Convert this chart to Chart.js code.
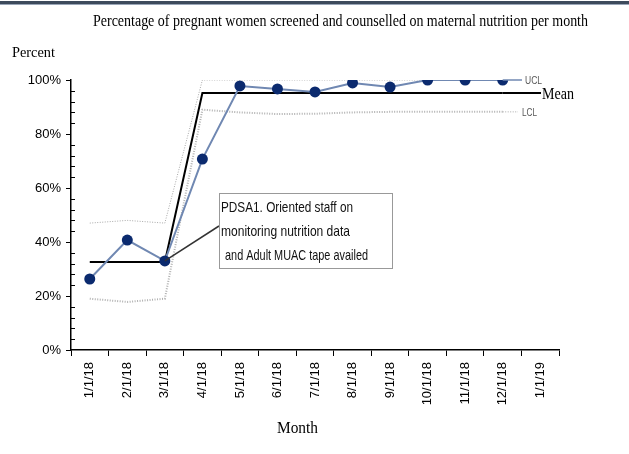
<!DOCTYPE html>
<html>
<head>
<meta charset="utf-8">
<script src="https://cdn.jsdelivr.net/npm/chart.js@4/dist/chart.umd.min.js"></script>
<style>
  html, body { margin: 0; padding: 0; background: #fff; }
  #wrap { width: 629px; height: 454px; position: relative; }
</style>
</head>
<body>
<div id="wrap"><canvas id="chart" width="629" height="454"></canvas></div>
<script>
// months on the x axis (last one has no value)
const months = ['1/1/18','2/1/18','3/1/18','4/1/18','5/1/18','6/1/18','7/1/18','8/1/18','9/1/18','10/1/18','11/1/18','12/1/18','1/1/19'];
// percent screened and counselled
const percent = [26.3, 40.7, 33, 70.7, 97.8, 96.7, 95.6, 98.9, 97.4, 100, 100, 100, null];
// control limits per phase
const meanLine = [32.6, 32.6, 32.6, 95.2, 95.2, 95.2, 95.2, 95.2, 95.2, 95.2, 95.2, 95.2, null];
const ucl = [47, 48, 47, 100, 100, 100, 100, 100, 100, 100, 100, 100, null];
const lcl = [19, 17.8, 19, 89, 88, 87.4, 87.5, 88, 88.2, 88.2, 88.2, 88.2, null];
const yTicks = [0, 20, 40, 60, 80, 100];
const noteLines = ['PDSA1. Oriented staff on', 'monitoring nutrition data', ' and Adult MUAC tape availed'];

const serif = '"Liberation Serif", "Times New Roman", serif';
const sans = '"Liberation Sans", Arial, sans-serif';

const extras = {
  id: 'extras',
  afterDraw(chart) {
    const ctx = chart.ctx;
    const x = chart.scales.x, y = chart.scales.y;
    ctx.save();
    // top frame line
    ctx.fillStyle = '#3d4a5c';
    ctx.fillRect(0, 1, 629, 3);
    ctx.fillStyle = '#9aa6b8';
    ctx.fillRect(0, 4, 629, 1);

    // minor ticks on the y axis
    ctx.strokeStyle = '#000';
    ctx.lineWidth = 1;
    for (let v = 0; v <= 100; v += 4) {
      if (v % 20 === 0) continue;
      const py = Math.round(y.getPixelForValue(v)) + 0.5;
      ctx.beginPath();
      ctx.moveTo(x.left, py);
      ctx.lineTo(x.left + 4, py);
      ctx.stroke();
    }

    ctx.fillStyle = '#000';
    ctx.textBaseline = 'alphabetic';
    ctx.textAlign = 'left';
    ctx.font = '16px ' + serif;
    ctx.fillText('Percentage of pregnant women screened and counselled on maternal nutrition per month', 93, 26, 495);
    ctx.font = '15px ' + serif;
    ctx.fillText('Percent', 12, 57, 43);
    ctx.font = '16px ' + serif;
    ctx.fillText('Month', 277, 433, 41);

    // line labels at the right end
    const last = 11;
    const xe = x.getPixelForValue(last);
    ctx.font = '16px ' + serif;
    ctx.textBaseline = 'middle';
    ctx.fillText('Mean', 542, y.getPixelForValue(meanLine[last]) + 2, 32);
    ctx.strokeStyle = '#000';
    ctx.lineWidth = 2;
    ctx.beginPath();
    ctx.moveTo(xe, y.getPixelForValue(meanLine[last]));
    ctx.lineTo(541, y.getPixelForValue(meanLine[last]));
    ctx.stroke();
    ctx.font = '10px ' + sans;
    ctx.fillStyle = '#555';
    ctx.fillText('UCL', 525, y.getPixelForValue(ucl[last]) + 1, 17);
    ctx.fillText('LCL', 522, y.getPixelForValue(lcl[last]) + 1, 15);
    ctx.strokeStyle = '#7088b2';
    ctx.lineWidth = 1.5;
    ctx.beginPath();
    ctx.moveTo(xe, y.getPixelForValue(ucl[last]));
    ctx.lineTo(522, y.getPixelForValue(ucl[last]));
    ctx.stroke();
    ctx.strokeStyle = '#aaa';
    ctx.lineWidth = 1;
    ctx.setLineDash([1, 1.5]);
    ctx.beginPath();
    ctx.moveTo(xe, y.getPixelForValue(lcl[last]));
    ctx.lineTo(518, y.getPixelForValue(lcl[last]));
    ctx.stroke();
    ctx.setLineDash([]);

    // callout box with leader line to the 3/1/18 point
    const bx = 219, by = 193, bw = 173, bh = 75;
    ctx.strokeStyle = '#333';
    ctx.lineWidth = 1.5;
    ctx.beginPath();
    ctx.moveTo(bx, by + 33);
    ctx.lineTo(x.getPixelForValue(2), y.getPixelForValue(percent[2]));
    ctx.stroke();
    ctx.fillStyle = '#fff';
    ctx.fillRect(bx, by, bw, bh);
    ctx.strokeStyle = '#999';
    ctx.lineWidth = 1;
    ctx.strokeRect(bx + 0.5, by + 0.5, bw, bh);
    ctx.fillStyle = '#111';
    ctx.font = '15px ' + sans;
    ctx.textBaseline = 'alphabetic';
    ctx.fillText(noteLines[0], bx + 2, by + 19, 132);
    ctx.fillText(noteLines[1], bx + 2, by + 43, 129);
    ctx.fillText(noteLines[2], bx + 3, by + 67, 146);
    ctx.restore();
  }
};

const ctx = document.getElementById('chart').getContext('2d');
new Chart(ctx, {
  type: 'line',
  data: {
    labels: months,
    datasets: [
      { label: 'UCL', data: ucl, borderColor: '#a8a8a8', borderWidth: 1, borderDash: [1, 1.5], pointRadius: 0, fill: false, order: 4 },
      { label: 'LCL', data: lcl, borderColor: '#b0b0b0', borderWidth: 2, borderDash: [1, 1.5], pointRadius: 0, fill: false, order: 3 },
      { label: 'Mean', data: meanLine, borderColor: '#000', borderWidth: 2, pointRadius: 0, fill: false, order: 2 },
      { label: 'Percent', data: percent, borderColor: '#7088b2', borderWidth: 2, pointRadius: 5.5, pointBackgroundColor: '#0b2a6e', pointBorderColor: '#0b2a6e', pointBorderWidth: 0, fill: false, order: 1 }
    ]
  },
  options: {
    responsive: false,
    animation: false,
    layout: { padding: { top: 80, right: 70, left: 0, bottom: 0 } },
    plugins: { legend: { display: false }, tooltip: { enabled: false }, title: { display: false } },
    scales: {
      x: {
        offset: true,
        grid: { offset: true, drawOnChartArea: false, tickLength: 6, color: '#000', tickColor: '#000' },
        border: { color: '#000', width: 1.5 },
        ticks: { color: '#000', font: { family: sans, size: 13 }, minRotation: 90, maxRotation: 90, padding: 6, autoSkip: false },
        afterFit(s) { s.height = 104; }
      },
      y: {
        min: 0, max: 100,
        grid: { drawOnChartArea: false, tickLength: 5, tickColor: (c) => (c.tick && c.tick.value % 20 === 0) ? '#000' : 'rgba(0,0,0,0)' },
        border: { color: '#000', width: 1.5 },
        afterBuildTicks(s) { const t = []; for (let v = 0; v <= 100; v += 4) t.push({ value: v }); s.ticks = t; },
        ticks: {
          color: '#000', padding: 5, autoSkip: false, font: { family: sans, size: 13 },
          callback: (v) => yTicks.includes(v) ? v + '%' : ''
        },
        afterFit(s) { s.width = 71; }
      }
    }
  },
  plugins: [extras]
});
</script>
</body>
</html>
